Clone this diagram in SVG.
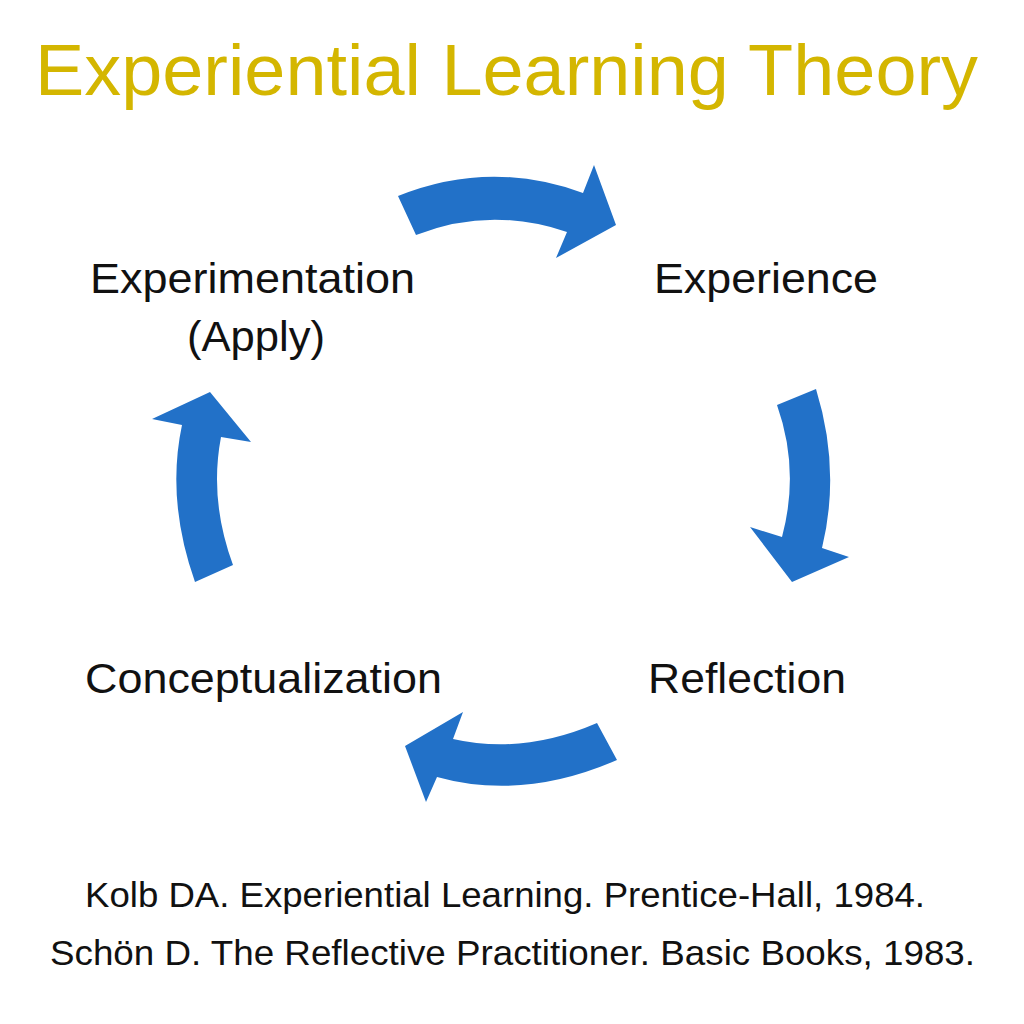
<svg xmlns="http://www.w3.org/2000/svg" width="1024" height="1024" viewBox="0 0 1024 1024">
<style>
.title{font-family:"Liberation Sans",Arial,sans-serif;font-size:72px;fill:#D4B600}
.lbl{font-family:"Liberation Sans",Arial,sans-serif;font-size:43px;fill:#111}
.ref{font-family:"Liberation Sans Narrow","Liberation Sans",Arial,sans-serif;font-size:35px;fill:#111}
.arr{fill:#2271C8}
</style>
<rect width="1024" height="1024" fill="#fff"/>
<text class="title" x="35" y="95" textLength="943" lengthAdjust="spacingAndGlyphs">Experiential Learning Theory</text>
<g id="experience"><text class="lbl" x="654" y="293" textLength="224" lengthAdjust="spacingAndGlyphs">Experience</text></g>
<g id="reflection"><text class="lbl" x="648" y="693" textLength="198" lengthAdjust="spacingAndGlyphs">Reflection</text></g>
<g id="conceptualization"><text class="lbl" x="85" y="693" textLength="357" lengthAdjust="spacingAndGlyphs">Conceptualization</text></g>
<g id="experimentation"><text class="lbl" x="90" y="293" textLength="325" lengthAdjust="spacingAndGlyphs">Experimentation</text><text class="lbl" x="187" y="351" textLength="138" lengthAdjust="spacingAndGlyphs">(Apply)</text></g>
<g id="connectors">
<path class="arr" d="M398,196 Q490,159 583,193 L594,165 L616,225 L556,258 L567,232 Q490,206 416,235 Z"/>
<path class="arr" d="M777,405 Q800,470 782,537 L750,527 L792,582 L849,557 L822,548 Q841,470 816,389 Z"/>
<path class="arr" d="M597,723 Q523,755 453,739 L463,712 L405,746 L426,802 L437,777 Q523,801 617,760 Z"/>
<path class="arr" d="M195,582 Q166,500 182,425 L152,419 L210,392 L251,442 L221,437 Q209,500 233,565 Z"/>
</g>
<text class="ref" x="85" y="907" textLength="840" lengthAdjust="spacingAndGlyphs">Kolb DA. Experiential Learning. Prentice-Hall, 1984.</text>
<text class="ref" x="50" y="965" textLength="925" lengthAdjust="spacingAndGlyphs">Schön D. The Reflective Practitioner. Basic Books, 1983.</text>
</svg>
